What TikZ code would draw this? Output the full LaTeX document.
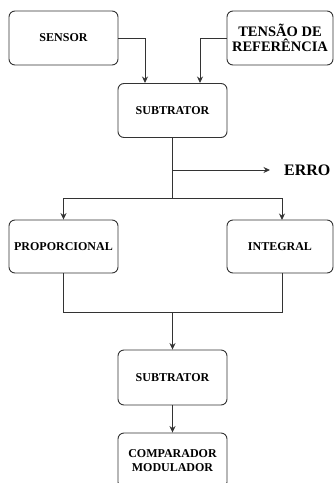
\documentclass[tikz,border=0pt]{standalone}
\usepackage{fontspec}
\setmainfont{Liberation Serif}
\usetikzlibrary{arrows.meta}
\begin{document}
\begin{tikzpicture}[x=1pt,y=-1pt,
  block/.style={draw=black!80, line width=0.9pt, rounded corners=6pt,
    minimum width=109pt, minimum height=54pt, inner sep=1pt, align=center,
    font=\bfseries\fontsize{12}{14}\selectfont},
  wire/.style={draw=black!80, line width=0.9pt},
  flow/.style={wire, -{Stealth[length=6.5pt,width=6pt]}}]
\useasboundingbox (0,0) rectangle (333,483);

% blocks
\node[block] (sensor) at (63.5,38) {SENSOR};
\node[block, minimum width=106pt, font=\bfseries\fontsize{14.5}{15}\selectfont] (ref) at (280,38) {TENSÃO DE\\REFERÊNCIA};
\node[block] (sub1) at (172.5,110.5) {SUBTRATOR};
\node[block, minimum height=53pt] (prop) at (63.5,246.5) {PROPORCIONAL};
\node[block, minimum width=106pt, minimum height=53pt] (int) at (280,246.5) {INTEGRAL};
\node[block, minimum height=55pt] (sub2) at (172.5,377.5) {SUBTRATOR};
\node[block, minimum height=55pt] (comp) at (172.5,460.5) {COMPARADOR\\MODULADOR};
\node[anchor=west, inner sep=0pt, font=\bfseries\fontsize{16}{18}\selectfont] (erro) at (284,170) {ERRO};

% junction points
\coordinate (split) at (172.5,198);
\coordinate (tap) at (172.5,170);
\coordinate (merge) at (172.5,312);

% inputs to the first subtractor
\draw[flow] (sensor.east) -| (145,83);
\draw[flow] (ref.west) -| (200,83);

% error signal and split to the two branches
\draw[wire] (sub1.south) -- (split);
\draw[flow] (tap) -- (270,170);
\draw[flow] (split) -| (prop.north);
\draw[flow] (split) -| (282,220);

% branches joined into the second subtractor
\draw[wire] (prop.south) |- (merge);
\draw[wire] (282,273) |- (merge);
\draw[flow] (merge) -- (sub2.north);
\draw[flow] (sub2.south) -- (comp.north);
\end{tikzpicture}
\end{document}
